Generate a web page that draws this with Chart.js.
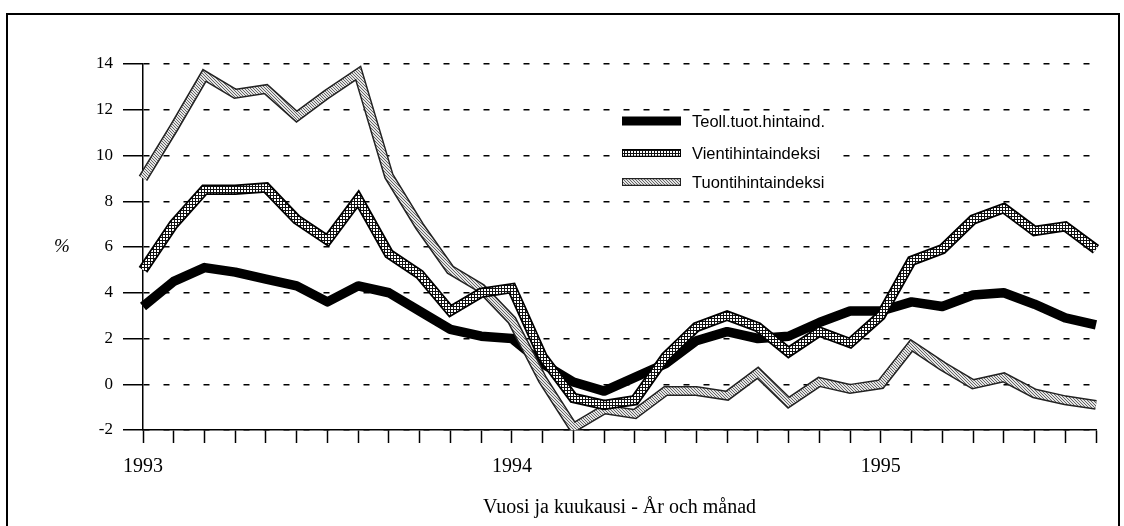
<!DOCTYPE html>
<html>
<head>
<meta charset="utf-8">
<script src="https://cdn.jsdelivr.net/npm/chart.js@4.4.0/dist/chart.umd.min.js"></script>
<style>
  html, body { margin: 0; padding: 0; background: #fff; }
  #wrap { position: relative; width: 1124px; height: 526px; overflow: hidden; }
  #frame { position: absolute; left: 6px; top: 13px; width: 1114px; height: 540px; border: 2px solid #000; box-sizing: border-box; }
  canvas { position: absolute; left: 0; top: 0; }
</style>
</head>
<body>
<div id="wrap">
  <div id="frame"></div>
  <canvas id="chartPrices" width="1124" height="526"></canvas>
</div>
<script>
// kuukaudet 1/1993 - 8/1995
const months = [
  '1993-01', '1993-02', '1993-03', '1993-04', '1993-05', '1993-06', '1993-07', '1993-08',
  '1993-09', '1993-10', '1993-11', '1993-12',
  '1994-01', '1994-02', '1994-03', '1994-04', '1994-05', '1994-06', '1994-07', '1994-08',
  '1994-09', '1994-10', '1994-11', '1994-12',
  '1995-01', '1995-02', '1995-03', '1995-04', '1995-05', '1995-06', '1995-07', '1995-08'
];

const seriesNames = ['Teoll.tuot.hintaind.', 'Vientihintaindeksi', 'Tuontihintaindeksi'];

// muutos %, luettu kuvasta
const teollData = [3.4, 4.5, 5.1, 4.9, 4.6, 4.3, 3.6, 4.3, 4.0, 3.2, 2.4, 2.1,
  2.0, 0.9, 0.1, -0.3, 0.3, 0.9, 1.9, 2.3, 2.0, 2.1, 2.7, 3.2,
  3.2, 3.6, 3.4, 3.9, 4.0, 3.5, 2.9, 2.6];

const vientiData = [5.0, 7.0, 8.5, 8.5, 8.6, 7.2, 6.3, 8.1, 5.7, 4.8, 3.2, 4.0,
  4.2, 1.2, -0.6, -0.9, -0.7, 1.2, 2.5, 3.0, 2.5, 1.4, 2.3, 1.8,
  3.0, 5.4, 5.9, 7.2, 7.7, 6.7, 6.9, 5.9];

const tuontiData = [9.0, 11.2, 13.5, 12.7, 12.9, 11.7, 12.7, 13.6, 9.1, 6.9, 5.0, 4.2,
  2.8, 0.2, -1.9, -1.1, -1.3, -0.3, -0.3, -0.5, 0.5, -0.8, 0.1, -0.2,
  0.0, 1.7, 0.8, 0.0, 0.3, -0.4, -0.7, -0.9];

const yMin = -2;
const yMax = 14;
const yStep = 2;

// rasterikuviot viivoille
const makePattern = (size, bg, draw) => {
  const c = document.createElement('canvas');
  c.width = size;
  c.height = size;
  const p = c.getContext('2d');
  p.fillStyle = bg;
  p.fillRect(0, 0, size, size);
  draw(p);
  return p.createPattern(c, 'repeat');
};

const crossHatch = makePattern(3, '#fff', p => {
  p.fillStyle = '#111';
  p.fillRect(0, 0, 3, 1);
  p.fillRect(0, 0, 1, 3);
});

const diagHatch = makePattern(3, '#e4e4e4', p => {
  p.fillStyle = '#666';
  for (let i = 0; i < 3; i++) p.fillRect(i, i, 1, 1);
});

const serif = '"Liberation Serif", "Times New Roman", serif';
const sans = '"Liberation Sans", Arial, sans-serif';

// % merkki ja selite
const extrasPlugin = {
  id: 'extras',
  afterDraw(chart) {
    const ctx = chart.ctx;
    const y = chart.scales.y;
    ctx.save();
    ctx.fillStyle = '#000';
    ctx.font = 'italic 19px ' + serif;
    ctx.textAlign = 'center';
    ctx.textBaseline = 'middle';
    ctx.fillText('%', 62, y.getPixelForValue(6));

    ctx.fillStyle = '#fff';
    ctx.fillRect(615, 115, 228, 76);

    const rows = [121, 153, 182];
    const x1 = 622, x2 = 681;
    ctx.lineCap = 'butt';

    // teoll.
    ctx.fillStyle = '#000';
    ctx.fillRect(x1, rows[0] - 4.5, x2 - x1, 9);

    // vienti
    ctx.strokeStyle = '#000';
    ctx.lineWidth = 8;
    ctx.beginPath(); ctx.moveTo(x1, rows[1]); ctx.lineTo(x2, rows[1]); ctx.stroke();
    ctx.strokeStyle = crossHatch;
    ctx.lineWidth = 5.5;
    ctx.beginPath(); ctx.moveTo(x1 + 1, rows[1]); ctx.lineTo(x2 - 1, rows[1]); ctx.stroke();

    // tuonti
    ctx.strokeStyle = '#222';
    ctx.lineWidth = 8;
    ctx.beginPath(); ctx.moveTo(x1, rows[2]); ctx.lineTo(x2, rows[2]); ctx.stroke();
    ctx.strokeStyle = diagHatch;
    ctx.lineWidth = 5.5;
    ctx.beginPath(); ctx.moveTo(x1 + 1, rows[2]); ctx.lineTo(x2 - 1, rows[2]); ctx.stroke();

    ctx.fillStyle = '#000';
    ctx.font = '16.5px ' + sans;
    ctx.textAlign = 'left';
    seriesNames.forEach((name, i) => {
      ctx.fillText(name, 692, rows[i] + 1);
    });
    ctx.restore();
  }
};

const lineBase = {
  pointRadius: 0,
  pointHoverRadius: 0,
  tension: 0,
  fill: false,
};

const ctx = document.getElementById('chartPrices');
const chartPrices = new Chart(ctx, {
  type: 'line',
  data: {
    labels: months,
    datasets: [
      { ...lineBase, label: seriesNames[1], data: vientiData, borderColor: crossHatch, borderWidth: 7, borderJoinStyle: 'miter', order: 1 },
      { ...lineBase, label: seriesNames[1] + ' reuna', data: vientiData, borderColor: '#000', borderWidth: 10.5, borderJoinStyle: 'miter', order: 2 },
      { ...lineBase, label: seriesNames[2], data: tuontiData, borderColor: diagHatch, borderWidth: 7, borderJoinStyle: 'miter', order: 3 },
      { ...lineBase, label: seriesNames[2] + ' reuna', data: tuontiData, borderColor: '#222', borderWidth: 10, borderJoinStyle: 'miter', order: 4 },
      { ...lineBase, label: seriesNames[0], data: teollData, borderColor: '#000', borderWidth: 9.5, borderJoinStyle: 'round', order: 5 },
    ]
  },
  options: {
    responsive: false,
    animation: false,
    events: [],
    layout: {
      padding: { top: 64, right: 28, bottom: 0, left: 0 }
    },
    plugins: {
      legend: { display: false },
      tooltip: { enabled: false },
    },
    scales: {
      x: {
        type: 'category',
        offset: false,
        grid: {
          display: true,
          drawOnChartArea: false,
          drawTicks: true,
          tickLength: 13,
          tickColor: '#000',
          tickWidth: 1.5,
          offset: false,
        },
        border: { display: true, color: '#000', width: 1.5 },
        ticks: {
          autoSkip: false,
          maxRotation: 0,
          minRotation: 0,
          padding: 12,
          color: '#000',
          font: { family: serif, size: 20 },
          callback: function (value, index) {
            const label = this.getLabelForValue(value);
            return label.endsWith('-01') ? label.slice(0, 4) : '';
          }
        },
        title: {
          display: true,
          text: 'Vuosi ja kuukausi - År och månad',
          color: '#000',
          font: { family: serif, size: 20 },
          padding: { top: 4, bottom: 6 }
        },
        afterFit: scale => { scale.height = 96; }
      },
      y: {
        min: yMin,
        max: yMax,
        ticks: {
          stepSize: yStep,
          padding: 10,
          color: '#000',
          font: { family: serif, size: 17 },
        },
        grid: {
          color: '#000',
          lineWidth: 1.5,
          tickLength: 20,
          tickColor: '#000',
          tickWidth: 1.5,
          tickBorderDash: [],
        },
        border: { display: true, color: '#000', width: 1.5, dash: [6, 14] },
        afterFit: scale => { scale.width = 143; }
      }
    }
  },
  plugins: [extrasPlugin]
});
</script>
</body>
</html>
